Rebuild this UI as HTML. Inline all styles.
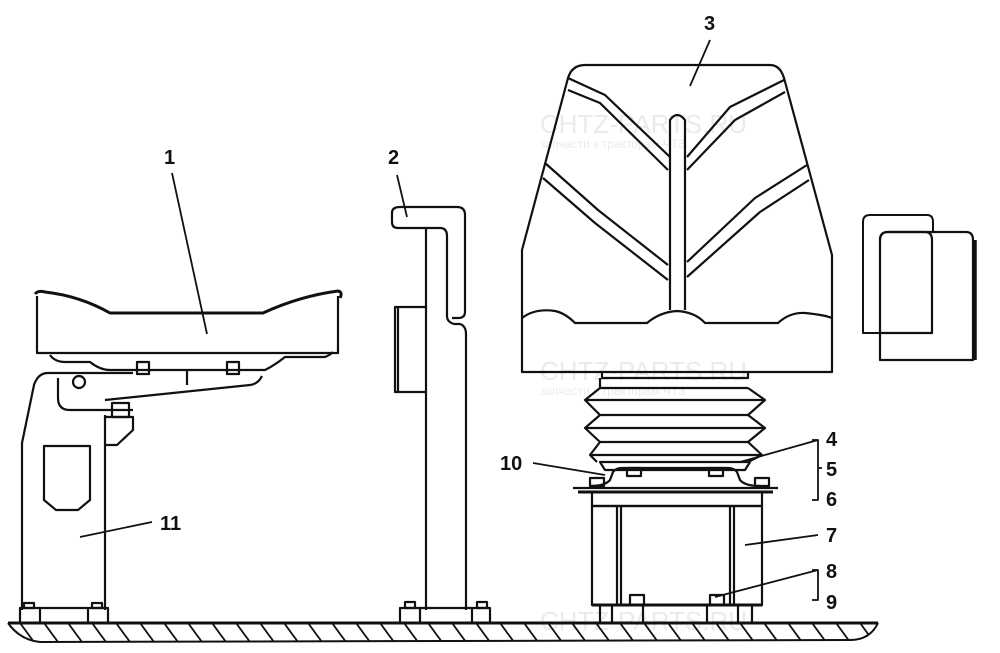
<!DOCTYPE html>
<html><head><meta charset="utf-8"><style>
html,body{margin:0;padding:0;background:#fff;}
svg{display:block;}
text{font-family:"Liberation Sans",Arial,sans-serif;font-weight:bold;font-size:20px;fill:#111;}
.wm{font-weight:normal;fill:#ebebeb;}
</style></head><body>
<svg width="1000" height="653" viewBox="0 0 1000 653" xmlns="http://www.w3.org/2000/svg">
<defs>
<clipPath id="gc"><path d="M8,623 L878,623 Q870,640 850,640 L40,642 Q20,640 8,623 Z"/></clipPath>
</defs>
<g class="wm">
<text x="540" y="133" style="font-size:26px" class="wm">CHTZ-PARTS.RU</text>
<text x="540" y="148" style="font-size:12px" class="wm">запчасти к тракторам ЧТЗ</text>
<text x="540" y="380" style="font-size:26px" class="wm">CHTZ-PARTS.RU</text>
<text x="540" y="395" style="font-size:12px" class="wm">запчасти к тракторам ЧТЗ</text>
<text x="540" y="630" style="font-size:26px" class="wm">CHTZ-PARTS.RU</text>
</g>
<g fill="none" stroke="#111" stroke-width="2.2" stroke-linejoin="round">
<line x1="8" y1="623" x2="878" y2="623" stroke-width="3"/>
<path d="M8,623 Q20,640 40,642 L850,640 Q870,640 878,623" stroke-width="2"/>
<g clip-path="url(#gc)" stroke-width="1.8">
<path d="M20,623 l14,19 M44,623 l14,19 M68,623 l14,19 M92,623 l14,19 M116,623 l14,19 M140,623 l14,19 M164,623 l14,19 M188,623 l14,19 M212,623 l14,19 M236,623 l14,19 M260,623 l14,19 M284,623 l14,19 M308,623 l14,19 M332,623 l14,19 M356,623 l14,19 M380,623 l14,19 M404,623 l14,19 M428,623 l14,19 M452,623 l14,19 M476,623 l14,19 M500,623 l14,19 M524,623 l14,19 M548,623 l14,19 M572,623 l14,19 M596,623 l14,19 M620,623 l14,19 M644,623 l14,19 M668,623 l14,19 M692,623 l14,19 M716,623 l14,19 M740,623 l14,19 M764,623 l14,19 M788,623 l14,19 M812,623 l14,19 M836,623 l14,19 M860,623 l14,19"/>
</g>

<path d="M35,294 Q38,290 45,292 Q80,296 110,313 L263,313 Q300,296 338,291 Q343,292 340,298" stroke-width="3"/>
<path d="M37,296 L37,353 L338,353 L338,296"/>
<path d="M50,355 Q55,362 65,362 L90,362 Q100,370 110,370 L265,370 Q275,365 285,357 L325,357 Q330,355 333,352"/>
<rect x="137" y="362" width="12" height="12"/>
<rect x="227" y="362" width="12" height="12"/>
<line x1="187" y1="370" x2="187" y2="385"/>
<path d="M58,378 L58,398 Q58,410 70,410 L133,410 M105,400 L250,385 Q258,384 262,376"/>
<circle cx="79" cy="382" r="6"/>
<rect x="112" y="403" width="17" height="14"/>
<path d="M22,610 L22,443 L34,385 Q38,373 48,373 L133,373"/>
<path d="M105,610 L105,415"/>
<path d="M105,417 L133,417 L133,430 L117,445 L105,445"/>
<path d="M44,446 L90,446 L90,500 L78,510 L56,510 L44,500 Z"/>
<rect x="20" y="608" width="88" height="15"/>
<line x1="40" y1="608" x2="40" y2="623"/><line x1="88" y1="608" x2="88" y2="623"/>
<rect x="24" y="603" width="10" height="5"/><rect x="92" y="603" width="10" height="5"/>

<path d="M426,610 L426,228 L398,228 Q392,228 392,222 L392,213 Q392,207 400,207 L457,207 Q465,207 465,215 L465,312 Q465,318 458,318 L452,318"/>
<path d="M426,228 L440,228 Q447,228 447,236 L447,316 Q447,322 454,324 L460,324 Q466,326 466,334 L466,610"/>
<path d="M426,307 L395,307 L395,392 L426,392"/>
<line x1="398" y1="307" x2="398" y2="392"/>
<rect x="400" y="608" width="90" height="15"/>
<line x1="420" y1="608" x2="420" y2="623"/><line x1="472" y1="608" x2="472" y2="623"/>
<rect x="405" y="602" width="10" height="6"/><rect x="477" y="602" width="10" height="6"/>

<path d="M522,372 L522,250 L568,78 Q572,65 585,65 L770,65 Q780,65 784,78 L832,255 L832,372 Z"/>
<path d="M568,78 L605,95 L670,157 M568,90 L600,103 L668,170"/>
<path d="M784,80 L730,107 L687,157 M785,92 L735,120 L687,170"/>
<path d="M545,163 L598,210 L668,265 M543,178 L595,223 L668,280"/>
<path d="M807,165 L755,198 L687,262 M809,180 L760,212 L687,277"/>
<path d="M670,310 L670,120 Q677,110 685,120 L685,310"/>
<path d="M522,318 Q535,308 555,311 Q565,313 575,323 L647,323 Q660,312 677,311 Q695,312 705,323 L778,323 Q790,312 805,313 Q825,315 832,318"/>
<path d="M602,372 L602,378 L748,378 L748,372"/>
<path d="M600,378 L600,388 L748,388"/>
<path d="M600,388 L585,400 L600,415 L585,428 L600,442 L590,455 L597,462 M748,388 L765,400 L748,415 L765,428 L748,442 L762,455 L748,462"/>
<path d="M585,400 L765,400 M600,415 L748,415 M585,428 L765,428 M600,442 L748,442 M590,455 L762,455"/>
<path d="M600,462 L750,462 L745,470 L605,470 Z"/>
<path d="M573,488 L778,488"/>
<path d="M578,492 L773,492" stroke-width="3"/>
<path d="M590,486 Q605,486 610,480 L613,472 Q616,468 622,468 L728,468 Q734,468 737,472 L740,480 Q745,486 760,486"/>
<rect x="590" y="478" width="14" height="8"/><rect x="755" y="478" width="14" height="8"/>
<rect x="627" y="468" width="14" height="8"/><rect x="709" y="468" width="14" height="8"/>
<path d="M592,492 L592,506 L762,506 L762,492"/>
<rect x="592" y="506" width="170" height="99"/>
<line x1="617" y1="506" x2="617" y2="605"/><line x1="621" y1="506" x2="621" y2="605"/>
<line x1="730" y1="506" x2="730" y2="605"/><line x1="734" y1="506" x2="734" y2="605"/>
<line x1="592" y1="605" x2="762" y2="605" stroke-width="3"/>
<rect x="600" y="605" width="152" height="18"/>
<line x1="612" y1="605" x2="612" y2="623"/><line x1="643" y1="605" x2="643" y2="623"/>
<line x1="707" y1="605" x2="707" y2="623"/><line x1="738" y1="605" x2="738" y2="623"/>
<rect x="630" y="595" width="14" height="10"/><rect x="710" y="595" width="14" height="10"/>

<path d="M863,333 L863,222 Q863,215 870,215 L927,215 Q933,215 933,222 L933,333 Z" stroke-width="2"/>
<path d="M880,360 L880,240 Q880,232 888,232 L966,232 Q973,232 973,240 L973,360 Z" fill="#fff"/>
<path d="M880,240 Q880,232 888,232 L925,232 Q932,232 932,240 L932,333 L880,333" />
<line x1="975" y1="240" x2="975" y2="360" stroke-width="3.5"/>

<g stroke-width="1.8">
<line x1="172" y1="173" x2="207" y2="334"/>
<line x1="397" y1="175" x2="407" y2="217"/>
<line x1="710" y1="40" x2="690" y2="86"/>
<line x1="818" y1="440" x2="740" y2="462"/>
<path d="M812,440 L818,440 L818,500 L812,500 M818,468 L822,468"/>
<line x1="533" y1="463" x2="605" y2="475"/>
<line x1="818" y1="535" x2="745" y2="545"/>
<line x1="818" y1="570" x2="715" y2="597"/>
<path d="M812,570 L818,570 L818,600 L812,600"/>
<line x1="152" y1="522" x2="80" y2="537"/>
</g>
</g>
<text x="164" y="164">1</text>
<text x="388" y="164">2</text>
<text x="704" y="30">3</text>
<text x="826" y="446">4</text>
<text x="826" y="476">5</text>
<text x="826" y="506">6</text>
<text x="826" y="542">7</text>
<text x="826" y="578">8</text>
<text x="826" y="609">9</text>
<text x="500" y="470">10</text>
<text x="160" y="530">11</text>
</svg>
</body></html>
